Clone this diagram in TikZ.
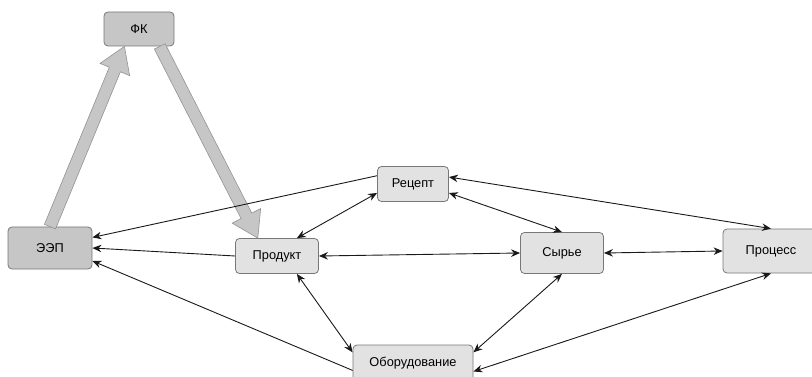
\documentclass[tikz,border=0pt]{standalone}
\usepackage{fontspec}
\setmainfont{Liberation Sans}
\usetikzlibrary{arrows.meta,calc}
\definecolor{boxdark}{HTML}{C6C6C6}
\definecolor{boxlight}{HTML}{E2E2E2}
\definecolor{boxline}{HTML}{777777}
\tikzstyle{block}=[rectangle,rounded corners=4pt,draw=boxline,line width=0.8pt,fill=boxlight,inner sep=0pt,font=\fontsize{12.8}{15}\selectfont]
\tikzstyle{darkblock}=[block,fill=boxdark]
\tikzstyle{link}=[draw,line width=0.9pt,black!90,-{Stealth[length=9pt,width=7.5pt]}]
\tikzstyle{dlink}=[link,{Stealth[length=9pt,width=7.5pt]}-{Stealth[length=9pt,width=7.5pt]}]
\tikzstyle{bigarrow}=[draw=gray!85,fill=boxdark,line width=0.6pt,line join=miter]
% wide arrow from #1 to #2
\newcommand{\fatarrow}[2]{%
  \coordinate (neck) at ($(#2)!25pt!(#1)$);
  \path[bigarrow] ($(#1)!6pt!90:(#2)$) -- ($(neck)!6pt!90:(#2)$) -- ($(neck)!16pt!90:(#2)$)
    -- (#2) -- ($(neck)!16pt!-90:(#2)$) -- ($(neck)!6pt!-90:(#2)$) -- ($(#1)!6pt!-90:(#2)$) -- cycle;
}

\begin{document}
\begin{tikzpicture}[x=1pt,y=-1pt]
    \useasboundingbox (0,0) rectangle (812,377);
    % First we draw the boxes
    \foreach \pos/\name/\w/\h/\txt in {{(139,29)/fk/70/34/ФК}, {(50,248)/eep/84/42/ЭЭП}}
        \node[darkblock,minimum width=\w pt,minimum height=\h pt] (\name) at \pos {\txt};
    \foreach \pos/\name/\w/\h/\txt in {{(277,256)/produkt/83/35/Продукт}, {(413,184)/recept/71/35/Рецепт},
        {(562,253)/syrye/83/41/Сырье}, {(771,251)/process/96/44/Процесс}, {(413,363)/oborud/120/36/Оборудование}}
        \node[block,minimum width=\w pt,minimum height=\h pt] (\name) at \pos {\txt};
    % Wide arrows
    \fatarrow{eep.north}{fk.230}
    \fatarrow{fk.320}{produkt.137}
    % One-way links into ЭЭП
    \foreach \source/\dest in {recept.167/eep.14, produkt.west/eep.east, oborud.187/eep.343}
        \path[link] (\source) -- (\dest);
    % Two-way links
    \foreach \source/\dest in {produkt.42/recept.194, produkt.east/syrye.west, produkt.318/oborud.170,
        recept.346/syrye.north, recept.11/process.north, syrye.east/process.west,
        syrye.south/oborud.10, process.south/oborud.352}
        \path[dlink] (\source) -- (\dest);
\end{tikzpicture}
\end{document}
